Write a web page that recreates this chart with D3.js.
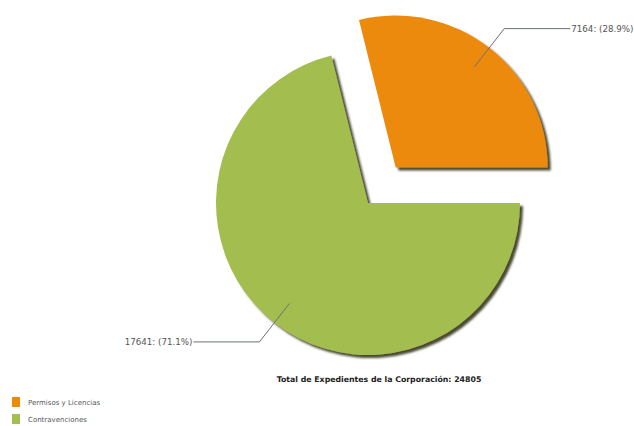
<!DOCTYPE html>
<html>
<head>
<meta charset="utf-8">
<script src="https://cdn.jsdelivr.net/npm/d3@7"></script>
<style>
  body { margin: 0; background: #fff; }
  text { font-family: "DejaVu Sans", Verdana, sans-serif; }
</style>
</head>
<body>
<div class="chart1"></div>
<script>
// datos del grafico
var categorias = ["Permisos y Licencias", "Contravenciones"];
var valores = [7164, 17641];
var colores = ["#ec8a09", "#a3bd4f"];
var titulo = "Total de Expedientes de la Corporación: ";

var width = 634, height = 426;
var cx = 368, cy = 203, radius = 152;
var explode = 45;

var total = d3.sum(valores);
var pieData = categorias.map(function(c, i) { return { label: c, value: valores[i], color: colores[i] }; });

var svg = d3.select(".chart1")
  .append("svg")
  .attr("width", width)
  .attr("height", height);

// sombra
var defs = svg.append("defs");
var filt = defs.append("filter").attr("id", "sombra")
  .attr("x", "-10%").attr("y", "-10%").attr("width", "130%").attr("height", "130%");
filt.append("feDropShadow")
  .attr("dx", 3).attr("dy", 3)
  .attr("stdDeviation", 1.2)
  .attr("flood-color", "#2a2a10")
  .attr("flood-opacity", 0.85);

// el pie empieza en el borde de la porcion naranja
var startA = -2 * Math.PI * (valores[0] / total) + Math.PI / 2;
var pie = d3.pie()
  .sort(null)
  .startAngle(startA)
  .endAngle(startA + 2 * Math.PI)
  .value(function(d) { return d.value; });

var arc = d3.arc().innerRadius(0).outerRadius(radius);

var arcs = pie(pieData);

var g = svg.append("g").attr("transform", "translate(" + cx + "," + cy + ")");

var slices = g.selectAll(".slice")
  .data(arcs)
  .enter()
  .append("g")
  .attr("class", "slice")
  .attr("transform", function(d, i) {
    if (i !== 0) return null;
    var m = (d.startAngle + d.endAngle) / 2;
    return "translate(" + (Math.sin(m) * explode) + "," + (-Math.cos(m) * explode) + ")";
  });

slices.append("path")
  .attr("d", arc)
  .attr("fill", function(d) { return d.data.color; })
  .attr("filter", "url(#sombra)");

// etiquetas con lineas
slices.each(function(d, i) {
  var m = (d.startAngle + d.endAngle) / 2;
  var sx = Math.sin(m), sy = -Math.cos(m);
  var p0 = [sx * radius * 0.84, sy * radius * 0.84];
  var p1 = [sx * radius * 1.16, sy * radius * 1.16];
  var dir = sx >= 0 ? 1 : -1;
  var p2 = [p1[0] + dir * 66, p1[1]];
  var sel = d3.select(this);
  sel.append("polyline")
    .attr("points", [p0, p1, p2].map(function(p) { return p.join(","); }).join(" "))
    .attr("fill", "none")
    .attr("stroke", "#6b7173")
    .attr("stroke-width", 1);
  sel.append("text")
    .attr("x", p2[0] + dir * 1)
    .attr("y", p2[1] + 3)
    .attr("text-anchor", dir > 0 ? "start" : "end")
    .attr("font-size", 8.7)
    .attr("fill", "#555")
    .text(d.data.value + ": (" + (d.data.value / total * 100).toFixed(1) + "%)");
});

// titulo
svg.append("text")
  .attr("x", 379)
  .attr("y", 382)
  .attr("text-anchor", "middle")
  .attr("font-size", 7.8)
  .attr("font-weight", "bold")
  .attr("fill", "#222")
  .text(titulo + total);

// leyenda
var leg = svg.selectAll(".leg")
  .data(pieData)
  .enter()
  .append("g")
  .attr("class", "leg")
  .attr("transform", function(d, i) { return "translate(12," + (397 + i * 17) + ")"; });

leg.append("rect")
  .attr("width", 8)
  .attr("height", 10)
  .attr("fill", function(d) { return d.color; });

leg.append("text")
  .attr("x", 16)
  .attr("y", 7.5)
  .attr("font-size", 7)
  .attr("fill", "#555")
  .text(function(d) { return d.label; });
</script>
</body>
</html>
